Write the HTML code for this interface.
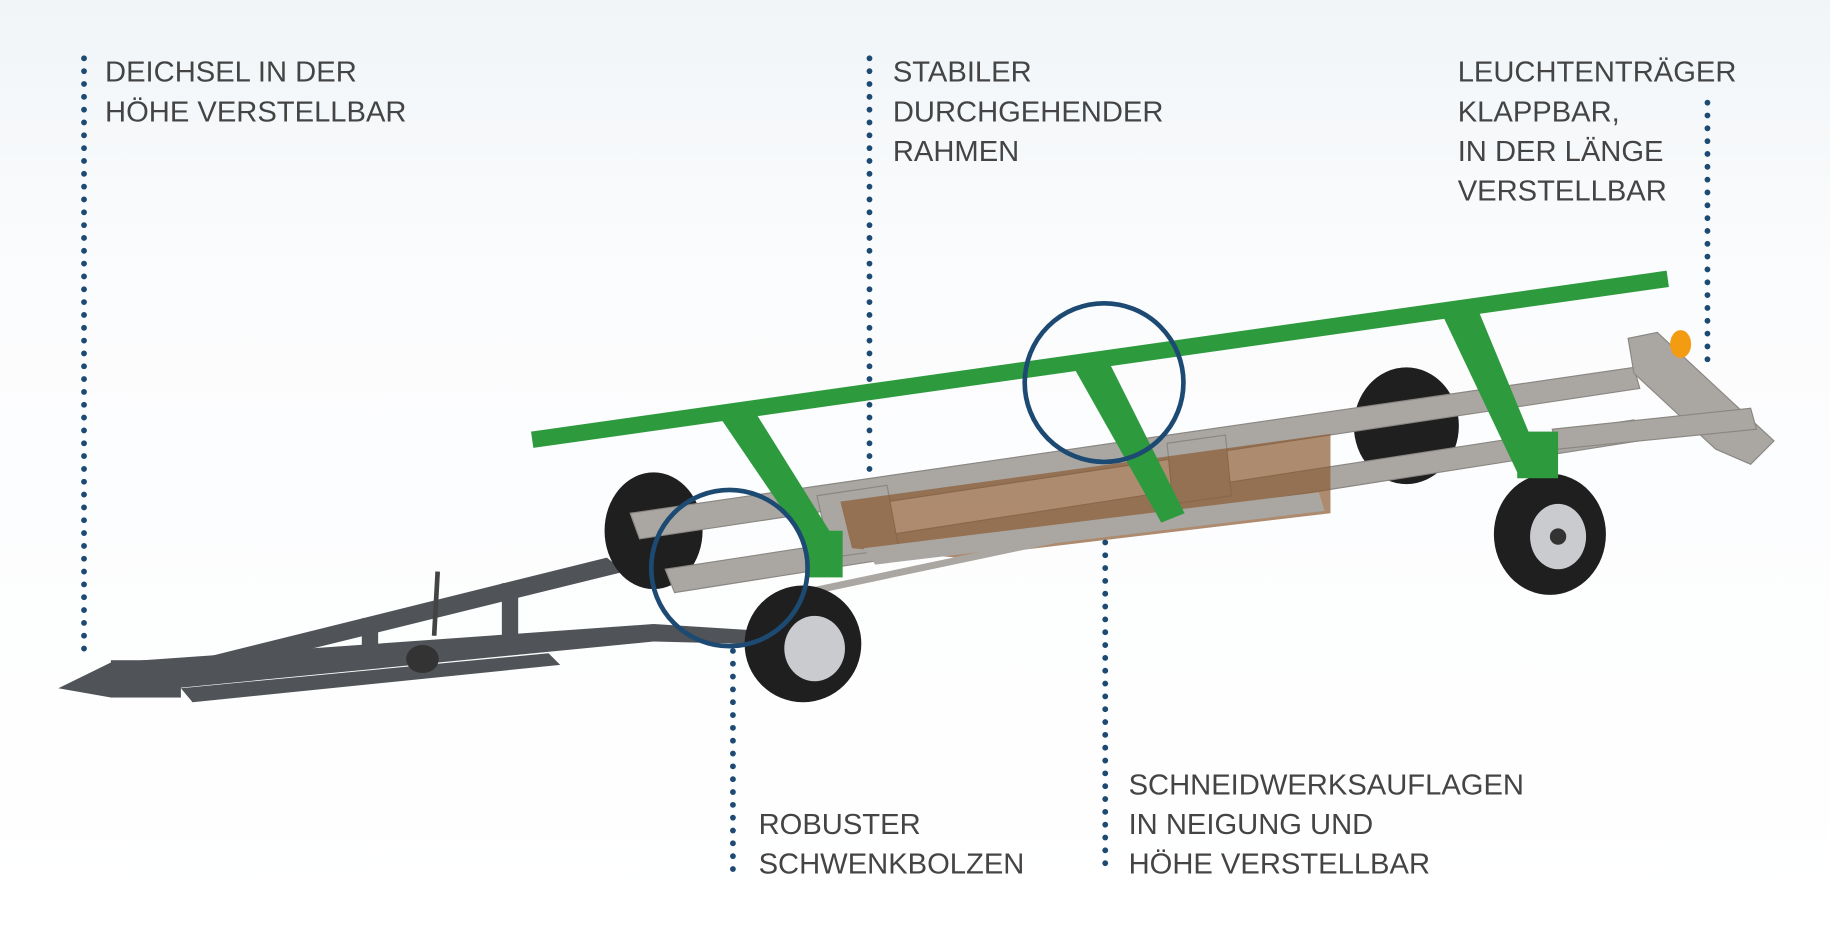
<!DOCTYPE html>
<html><head><meta charset="utf-8"><style>
html,body{margin:0;padding:0;background:#fff;}
svg{display:block;}
text{font-family:"Liberation Sans",sans-serif;font-size:25px;fill:#444;}
</style></head><body>
<svg width="1830" height="932" viewBox="0 0 1568 799" preserveAspectRatio="none" xmlns="http://www.w3.org/2000/svg">
<defs>
<linearGradient id="bg" x1="0" y1="0" x2="0" y2="1">
<stop offset="0" stop-color="#f1f5f8"/><stop offset="0.3" stop-color="#fbfcfd"/><stop offset="1" stop-color="#ffffff"/>
</linearGradient>
</defs>
<rect width="1568" height="799" fill="url(#bg)"/>
<g stroke="#1d4a73" stroke-width="5" stroke-linecap="round" stroke-dasharray="0 11" fill="none">
<line x1="72" y1="50" x2="72" y2="565"/>
<line x1="745" y1="50" x2="745" y2="420"/>
<line x1="1463" y1="88" x2="1463" y2="312"/>
<line x1="628" y1="558" x2="628" y2="750"/>
<line x1="947" y1="432" x2="947" y2="750"/>
</g>
<g fill="#505357">
<polygon points="50,590 95,568 560,535 640,540 640,552 560,550 130,592 95,598"/>
<polygon points="130,575 520,478 535,490 150,585"/>
<polygon points="155,590 470,560 480,570 165,602"/>
<rect x="95" y="566" width="60" height="32"/>
<rect x="310" y="530" width="14" height="35"/>
<rect x="430" y="500" width="14" height="50"/>
</g>
<line x1="375" y1="490" x2="372" y2="545" stroke="#444" stroke-width="4"/>
<ellipse cx="362" cy="565" rx="14" ry="12" fill="#333"/>
<ellipse cx="560" cy="455" rx="42" ry="50" fill="#1f1f1f"/>
<ellipse cx="1205" cy="365" rx="45" ry="50" fill="#1f1f1f"/>
<g fill="#aaa7a3" stroke="#8a8783" stroke-width="1">
<polygon points="540,440 1400,315 1405,333 548,462"/>
<polygon points="570,488 1400,360 1404,378 578,508"/>
<polygon points="1395,290 1420,285 1520,378 1500,398 1470,385 1400,320"/>
<polygon points="1330,368 1500,350 1505,368 1335,385"/>
<polygon points="700,425 760,416 770,470 712,478"/>
<polygon points="1000,380 1050,373 1055,425 1005,432"/>
</g>
<polygon points="720,430 1140,372 1140,440 820,478 730,470" fill="#8b5a32" opacity="0.7"/>
<polygon points="740,470 1130,422 1135,438 750,484" fill="#aaa7a3"/>
<line x1="680" y1="510" x2="940" y2="455" stroke="#aaa7a3" stroke-width="6"/>
<ellipse cx="688" cy="552" rx="50" ry="50" fill="#1f1f1f"/>
<ellipse cx="698" cy="556" rx="26" ry="28" fill="#c9cbce"/>
<ellipse cx="1328" cy="458" rx="48" ry="52" fill="#1f1f1f"/>
<ellipse cx="1335" cy="460" rx="24" ry="28" fill="#c9cbce"/>
<circle cx="1335" cy="460" r="7" fill="#333"/>
<g fill="#2e9a3e">
<polygon points="455,370 1428,232 1430,246 457,384"/>
<polygon points="615,355 645,350 720,470 700,480"/>
<polygon points="920,315 950,310 1015,440 995,448"/>
<polygon points="1235,268 1265,262 1320,395 1300,405"/>
<rect x="690" y="455" width="32" height="40"/>
<rect x="1300" y="370" width="35" height="40"/>
</g>
<ellipse cx="1440" cy="295" rx="9" ry="12" fill="#f39c12"/>
<g fill="none" stroke="#1d4a73" stroke-width="4">
<circle cx="625" cy="487" r="67"/>
<circle cx="946" cy="328" r="68"/>
</g>
<text x="90" y="70">DEICHSEL IN DER</text>
<text x="90" y="104">HÖHE VERSTELLBAR</text>
<text x="765" y="70">STABILER</text>
<text x="765" y="104">DURCHGEHENDER</text>
<text x="765" y="138">RAHMEN</text>
<text x="1249" y="70">LEUCHTENTRÄGER</text>
<text x="1249" y="104">KLAPPBAR,</text>
<text x="1249" y="138">IN DER LÄNGE</text>
<text x="1249" y="172">VERSTELLBAR</text>
<text x="650" y="715">ROBUSTER</text>
<text x="650" y="749">SCHWENKBOLZEN</text>
<text x="967" y="681">SCHNEIDWERKSAUFLAGEN</text>
<text x="967" y="715">IN NEIGUNG UND</text>
<text x="967" y="749">HÖHE VERSTELLBAR</text>
</svg>
</body></html>
